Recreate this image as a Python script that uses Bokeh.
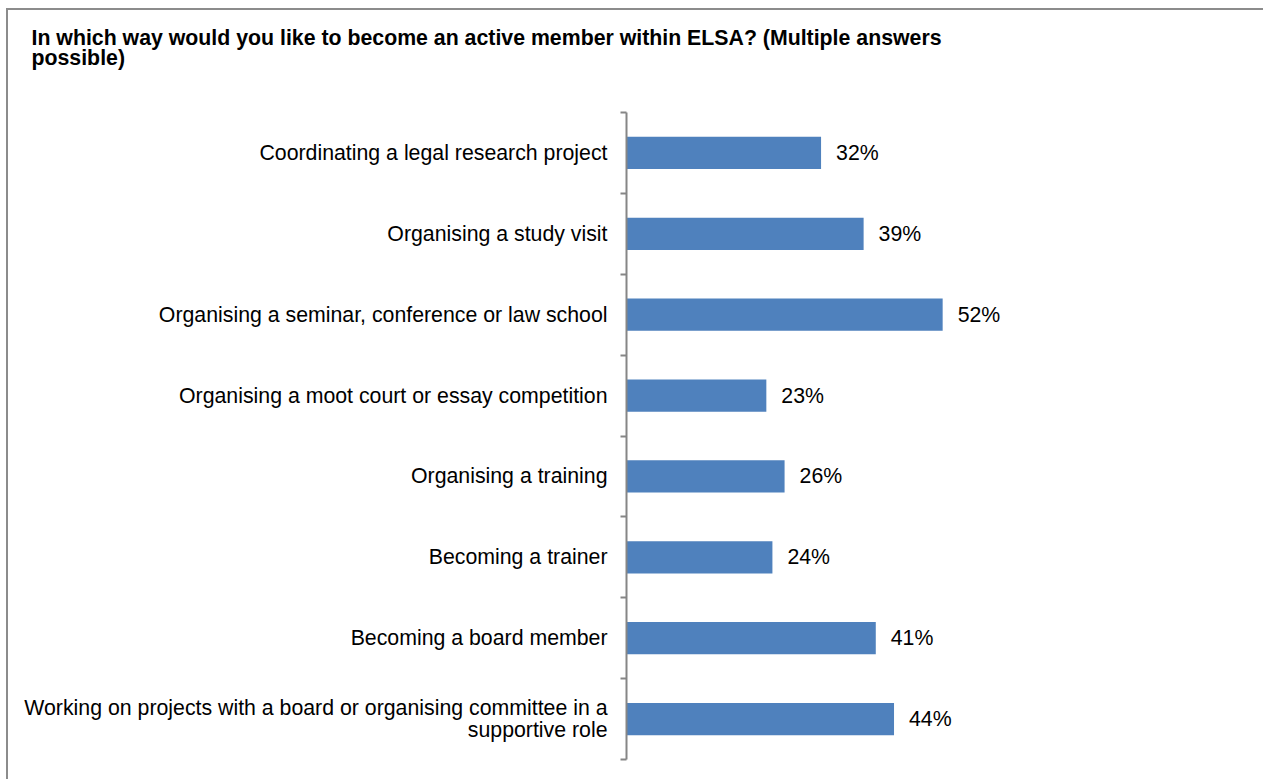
from bokeh.plotting import figure
from bokeh.models import Range1d, FixedTicker, ColumnDataSource, Title
from bokeh.core.properties import value
from bokeh.embed import file_html
from bokeh.resources import INLINE

title_lines = [
    "In which way would you like to become an active member within ELSA? (Multiple answers",
    "possible)",
]
categories = [
    "Coordinating a legal research project",
    "Organising a study visit",
    "Organising a seminar, conference or law school",
    "Organising a moot court or essay competition",
    "Organising a training",
    "Becoming a trainer",
    "Becoming a board member",
    "Working on projects with a board or organising committee in a\nsupportive role",
]
values = [32, 39, 52, 23, 26, 24, 41, 44]
value_labels = [f"{v}%" for v in values]

FONT = "Liberation Sans"
BAR = "#4F81BD"
AXIS = "#868686"
FS = "21.3px"

n = len(categories)
pos = [i + 0.5 for i in range(n)]

src = ColumnDataSource(dict(y=pos, v=values, lab=value_labels))

p = figure(
    width=1257, height=771,
    output_backend="svg", toolbar_location=None,
    x_range=Range1d(0, 100), y_range=Range1d(n, 0),
    x_axis_location=None,
    min_border_left=618, min_border_top=102, min_border_bottom=22, min_border_right=31,
    title="\n".join(title_lines),
)
p.styles = {
    "margin-left": "6px", "margin-top": "8px",
    "border-top": "2px solid #8c8c8c", "border-left": "2px solid #8c8c8c",
}
p.outline_line_color = None
p.background_fill_color = "white"
p.border_fill_color = "white"
p.grid.visible = False

t = p.title
t.text_font = FONT
t.text_font_size = "21.3px"
t.text_font_style = "bold"
t.text_color = "black"
t.text_line_height = 0.86
t.align = "left"
t.offset = -595

# spacer between the title and the plot area
p.add_layout(Title(text=" ", text_font_size="22px", text_line_height=1.0), "above")

ax = p.yaxis[0]
ax.ticker = FixedTicker(ticks=pos, minor_ticks=list(range(n + 1)))
ax.major_label_overrides = {pos[i]: categories[i] for i in range(n)}
ax.major_tick_line_color = None
ax.major_tick_out = 6
ax.major_tick_in = 0
ax.minor_tick_line_color = AXIS
ax.minor_tick_line_width = 2
ax.minor_tick_out = 6
ax.minor_tick_in = 0
ax.axis_line_color = AXIS
ax.axis_line_width = 2
ax.major_label_standoff = 13
ax.major_label_text_font = FONT
ax.major_label_text_font_size = FS
ax.major_label_text_color = "black"
ax.major_label_text_line_height = 0.92

p.hbar(y="y", left=0, right="v", height=0.4, source=src, fill_color=BAR, line_color=None)
p.text(x="v", y="y", text="lab", source=src, x_offset=15,
       text_align="left", text_baseline="middle",
       text_font=value(FONT), text_font_size=FS, text_color="black")

open("out.html", "w").write(file_html(p, INLINE))
